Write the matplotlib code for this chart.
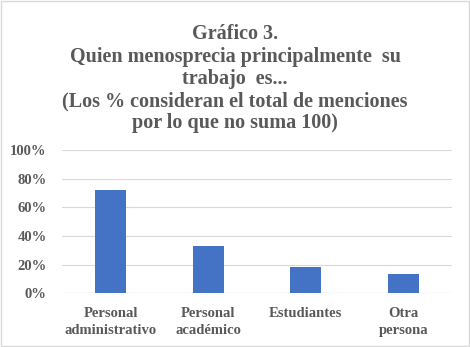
import matplotlib.pyplot as plt
from matplotlib.patches import Rectangle
from matplotlib.ticker import PercentFormatter

categorias = ["Personal\nadministrativo", "Personal\nacadémico", "Estudiantes", "Otra\npersona"]
valores = [0.72, 0.33, 0.18, 0.135]
yticks = [0, 0.2, 0.4, 0.6, 0.8, 1.0]

titulo = ("Gráfico 3.\n"
          "Quien menosprecia principalmente  su\n"
          "trabajo  es...\n"
          "(Los % consideran el total de menciones\n"
          "por lo que no suma 100)")

gris = "#595959"
plt.rcParams['font.family'] = ['Liberation Serif', 'DejaVu Serif']
plt.rcParams['font.weight'] = 'bold'

fig = plt.figure(figsize=(4.7, 3.47), dpi=100)
ax = fig.add_axes([0.132, 0.155, 0.83, 0.413])

x = range(len(categorias))
ax.bar(x, valores, width=0.32, color="#4472C4", zorder=3)

ax.set_ylim(0, 1)
ax.set_xlim(-0.5, len(categorias) - 0.5)
ax.set_yticks(yticks)
ax.yaxis.set_major_formatter(PercentFormatter(1.0, decimals=0))
ax.set_xticks(list(x))
ax.set_xticklabels(categorias, fontsize=10.5, color=gris, fontweight='bold', linespacing=1.35)
ax.tick_params(axis='y', labelsize=10.5, labelcolor=gris, length=0, pad=11)
ax.tick_params(axis='x', length=0, pad=10)
for lab in ax.get_yticklabels():
    lab.set_fontweight('bold')
ax.grid(axis='y', color="#d9d9d9", linewidth=0.8, zorder=0)
for s in ax.spines.values():
    s.set_visible(False)
ax.axhline(0, color="#d9d9d9", linewidth=0.8, zorder=1)

fig.text(0.5, 0.93, titulo, ha='center', va='top', fontsize=14.5, color=gris,
         fontweight='bold', linespacing=1.15)

fig.patches.append(Rectangle((0.002, 0.003), 0.996, 0.994, transform=fig.transFigure,
                             fill=False, edgecolor="#d9d9d9", linewidth=1))

fig.savefig("out.png", dpi=100)
